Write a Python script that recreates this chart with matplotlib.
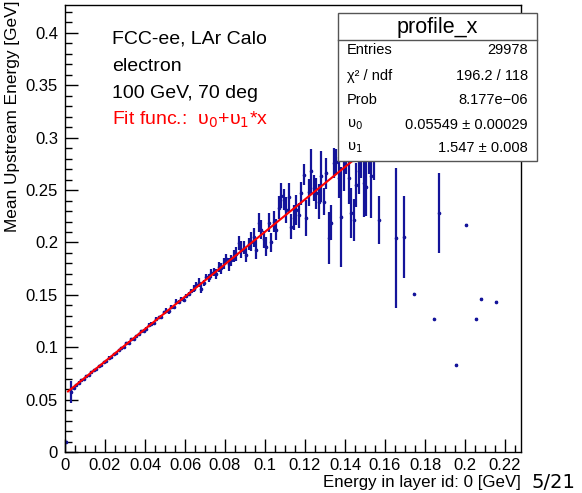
import matplotlib
matplotlib.use("Agg")
import matplotlib.pyplot as plt
from matplotlib.ticker import MultipleLocator, FuncFormatter
from matplotlib.patches import Rectangle
from matplotlib.lines import Line2D

plt.rcParams['font.family'] = ['Liberation Sans', 'DejaVu Sans']
plt.rcParams['mathtext.fontset'] = 'dejavusans'

# profile bins (bin centres, GeV) and mean upstream energy with errors
x_vals = [
    0.00063,
    0.00313, 0.00438, 0.00563, 0.00688, 0.00813, 0.00938,
    0.01063, 0.01188, 0.01313, 0.01438, 0.01563, 0.01688, 0.01813, 0.01938,
    0.02063, 0.02188, 0.02313, 0.02438, 0.02563, 0.02688, 0.02813, 0.02938,
    0.03063, 0.03188, 0.03313, 0.03438, 0.03563, 0.03688, 0.03813, 0.03938,
    0.04063, 0.04188, 0.04313, 0.04438, 0.04563, 0.04688, 0.04813, 0.04938,
    0.05063, 0.05188, 0.05313, 0.05438, 0.05563, 0.05688, 0.05813, 0.05938,
    0.06063, 0.06188, 0.06313, 0.06438, 0.06563, 0.06688, 0.06813, 0.06938,
    0.07063, 0.07188, 0.07313, 0.07438, 0.07563, 0.07688, 0.07813, 0.07938,
    0.08063, 0.08188, 0.08313, 0.08438, 0.08563, 0.08688, 0.08813, 0.08938,
    0.09063, 0.09188, 0.09313, 0.09438, 0.09563, 0.09688, 0.09813, 0.09938,
    0.10063, 0.10188, 0.10313, 0.10438, 0.10563, 0.10688, 0.10813, 0.10938,
    0.11063, 0.11188, 0.11313, 0.11438, 0.11563, 0.11688, 0.11813, 0.11938,
    0.12063, 0.12188, 0.12313, 0.12438, 0.12563, 0.12688, 0.12813, 0.12938,
    0.13063, 0.13188, 0.13313, 0.13438, 0.13563, 0.13688, 0.13813, 0.13938,
    0.14063, 0.14188, 0.14313, 0.14438, 0.14563, 0.14688, 0.14813, 0.14938,
    0.15063, 0.15188, 0.15313, 0.15438, 0.15563, 0.15688,
    0.16563, 0.16938, 0.17438, 0.18438, 0.18688, 0.19563, 0.20063, 0.20563,
    0.20813, 0.21563,
]
y_vals = [
    0.0095,
    0.0568, 0.0613, 0.0637, 0.0663, 0.0684, 0.0697,
    0.0724, 0.0733, 0.0761, 0.0785, 0.0793, 0.0818, 0.0828, 0.0861,
    0.0869, 0.0902, 0.0910, 0.0936, 0.0941, 0.0977, 0.0992, 0.1003,
    0.1037, 0.1044, 0.1077, 0.1078, 0.1109, 0.1123, 0.1157, 0.1159,
    0.1175, 0.1212, 0.1224, 0.1228, 0.1272, 0.1284, 0.1293, 0.1334,
    0.1350, 0.1342, 0.1382, 0.1388, 0.1436, 0.1432, 0.1464, 0.1454,
    0.1488, 0.1512, 0.1540, 0.1560, 0.1594, 0.1618, 0.1560, 0.1610,
    0.1672, 0.1660, 0.1705, 0.1718, 0.1700, 0.1765, 0.1752, 0.1800,
    0.1840, 0.1790, 0.1830, 0.1870, 0.1890, 0.1996, 0.1930, 0.1950,
    0.1880, 0.1985, 0.2006, 0.2050, 0.1930, 0.2187, 0.2120, 0.2030,
    0.1960, 0.2190, 0.2000, 0.2196, 0.2120, 0.2330, 0.2445, 0.2410,
    0.2310, 0.2430, 0.2150, 0.2235, 0.2310, 0.2260, 0.2470, 0.2646,
    0.2235, 0.2480, 0.2684, 0.2520, 0.2470, 0.2390, 0.2630, 0.2390,
    0.2660, 0.2040, 0.2190, 0.2760, 0.2770, 0.2620, 0.2245, 0.2710,
    0.2850, 0.2620, 0.2280, 0.2216, 0.2550, 0.2680, 0.2920, 0.2570,
    0.2530, 0.3000, 0.2630, 0.2900, 0.3050, 0.2216,
    0.204, 0.205, 0.151, 0.127, 0.228, 0.083, 0.217, 0.127,
    0.146, 0.143,
]
y_errs = [
    0.0,
    0.0105, 0.0015, 0.0012, 0.0010, 0.0010, 0.0010,
    0.001, 0.001, 0.001, 0.001, 0.001, 0.001, 0.001, 0.001,
    0.001, 0.001, 0.001, 0.001, 0.001, 0.001, 0.001, 0.001,
    0.0012, 0.0012, 0.0012, 0.0012, 0.0012, 0.0012, 0.0012, 0.0012,
    0.0015, 0.0015, 0.0015, 0.0015, 0.0015, 0.0015, 0.0015, 0.0015,
    0.002, 0.002, 0.002, 0.002, 0.002, 0.002, 0.002, 0.002,
    0.002, 0.002, 0.002, 0.003, 0.003, 0.004, 0.004, 0.003,
    0.003, 0.004, 0.004, 0.004, 0.005, 0.005, 0.005, 0.005,
    0.005, 0.006, 0.005, 0.006, 0.007, 0.007, 0.008, 0.006,
    0.007, 0.006, 0.009, 0.009, 0.009, 0.009, 0.009, 0.008,
    0.009, 0.009, 0.009, 0.010, 0.010, 0.011, 0.012, 0.010,
    0.012, 0.014, 0.012, 0.012, 0.014, 0.012, 0.011, 0.010,
    0.017, 0.013, 0.021, 0.012, 0.015, 0.017, 0.024, 0.013,
    0.015, 0.025, 0.017, 0.014, 0.012, 0.020, 0.048, 0.022,
    0.020, 0.025, 0.024, 0.020, 0.021, 0.022, 0.030, 0.033,
    0.028, 0.035, 0.040, 0.030, 0.025, 0.023,
    0.067, 0.039, 0.0, 0.0, 0.038, 0.0, 0.0, 0.0,
    0.0, 0.0,
]
half_bin = 0.000625

# fit result (pol1)
fit_p0 = 0.05549
fit_p1 = 1.547
fit_range = [0.0015, 0.16]

stat_labels = ['Entries', 'χ² / ndf', 'Prob', 'υ$_0$', 'υ$_1$']
stat_values = ['29978', '196.2 / 118', '8.177e\u221206',
               '0.05549 ± 0.00029', '1.547 ± 0.008']

W, H = 582, 493
fig = plt.figure(figsize=(W / 100, H / 100), dpi=100)
ax = fig.add_axes([65 / W, 1 - 452 / H, (521 - 65) / W, (452 - 5) / H])

navy = '#14149a'
ax.errorbar(x_vals, y_vals, yerr=y_errs, xerr=half_bin, fmt='o', color=navy,
            ms=1.6, elinewidth=1.6, capsize=0, zorder=2)

fx = fit_range
fy = [fit_p0 + fit_p1 * v for v in fx]
ax.plot(fx, fy, color='#ff0000', lw=1.5, zorder=3)

ax.set_xlim(0, 0.228)
ax.set_ylim(0, 0.4267)
ax.xaxis.set_major_locator(MultipleLocator(0.02))
ax.xaxis.set_minor_locator(MultipleLocator(0.005))
ax.yaxis.set_major_locator(MultipleLocator(0.05))
ax.yaxis.set_minor_locator(MultipleLocator(0.01))
fmt = FuncFormatter(lambda v, p: f'{v:g}')
ax.xaxis.set_major_formatter(fmt)
ax.yaxis.set_major_formatter(fmt)
ax.tick_params(which='both', direction='in', labelsize=12, width=1)
ax.tick_params(which='major', length=9.5)
ax.tick_params(which='minor', length=5)
ax.tick_params(axis='x', pad=4)
ax.tick_params(axis='y', pad=5)
for s in ax.spines.values():
    s.set_linewidth(1)

# axis titles, ROOT style (right / top aligned)
fig.text(521 / W, 1 - 482 / H, 'Energy in layer id: 0 [GeV]', ha='right',
         va='center', fontsize=12.2)
fig.text(13 / W, 1 - 1 / H, 'Mean Upstream Energy [GeV]', rotation=90,
         ha='center', va='top', fontsize=12.4)
fig.text(575 / W, 1 - 482 / H, '5/21', ha='right', va='center', fontsize=14,
         family='DejaVu Sans')

# labels
lines = ['FCC-ee, LAr Calo', 'electron', '100 GeV, 70 deg']
for i, t in enumerate(lines):
    fig.text(112 / W, 1 - (44 + 27 * i) / H, t, ha='left', va='baseline',
             fontsize=14)
fig.text(112 / W, 1 - 125 / H, 'Fit func.:  υ$_0$+υ$_1$*x', ha='left',
         va='baseline', fontsize=14, color='#ff0000')

# stats box
bx0, bx1, by0, by1 = 338, 537, 13, 161
fig.patches.append(Rectangle((bx0 / W, 1 - by1 / H), (bx1 - bx0) / W,
                             (by1 - by0) / H, transform=fig.transFigure,
                             facecolor='white', edgecolor='#555555', lw=1,
                             zorder=5))
fig.lines.append(Line2D([bx0 / W, bx1 / W], [1 - 40 / H, 1 - 40 / H],
                        transform=fig.transFigure, color='#555555', lw=1,
                        zorder=6))
fig.text((bx0 + bx1) / 2 / W, 1 - 27 / H, 'profile_x', ha='center',
         va='center', fontsize=15.5, zorder=7)
row_y = [50, 76, 100, 125, 148]
for lab, val, yy in zip(stat_labels, stat_values, row_y):
    fig.text(347 / W, 1 - yy / H, lab, ha='left', va='center', fontsize=10.5,
             zorder=7)
    fig.text(528 / W, 1 - yy / H, val, ha='right', va='center', fontsize=10.5,
             zorder=7)

fig.savefig('out.png', dpi=100)
